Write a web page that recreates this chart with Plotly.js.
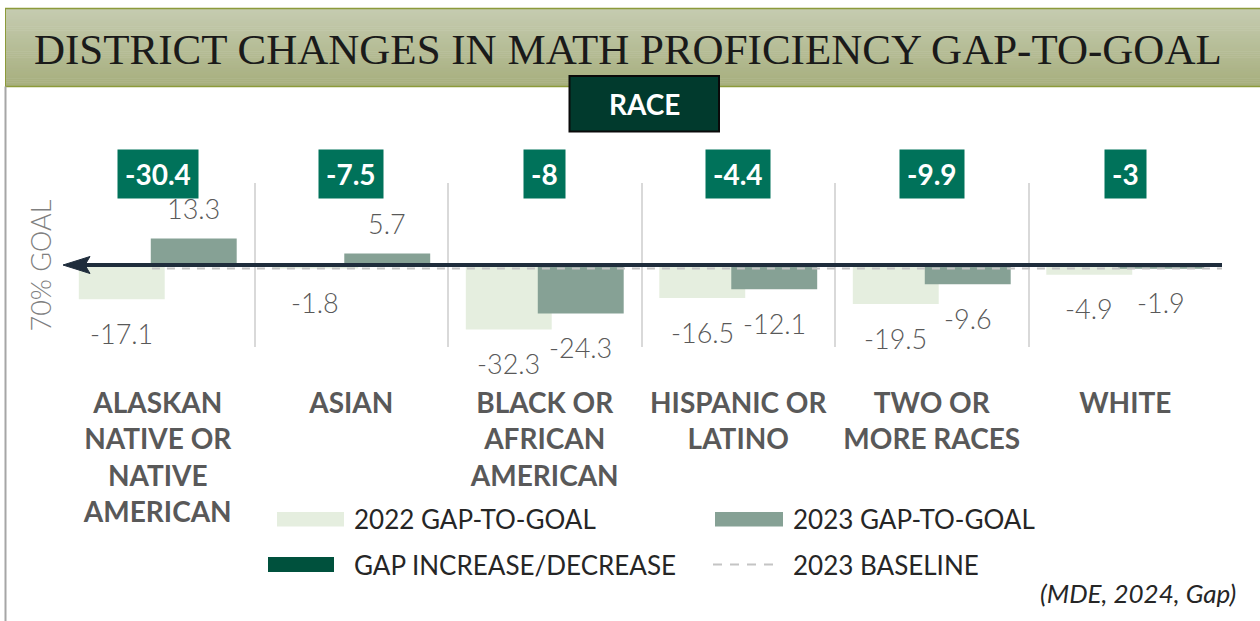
<!DOCTYPE html>
<html>
<head>
<meta charset="utf-8">
<script src="https://cdn.plot.ly/plotly-3.0.1.min.js"></script>
<style>
  html, body { margin: 0; padding: 0; background: #ffffff; }
  #chart { width: 1260px; height: 621px; }
</style>
</head>
<body>
<div id="chart"></div>
<script>
// ---------- DATA ----------
const categories = ["ALASKAN NATIVE OR NATIVE AMERICAN", "ASIAN", "BLACK OR AFRICAN AMERICAN", "HISPANIC OR LATINO", "TWO OR MORE RACES", "WHITE"];
const categoryLabels = ["ALASKAN<br>NATIVE OR<br>NATIVE<br>AMERICAN", "ASIAN", "BLACK OR<br>AFRICAN<br>AMERICAN", "HISPANIC OR<br>LATINO", "TWO OR<br>MORE RACES", "WHITE"];
const gap2022 = [-17.1, -1.8, -32.3, -16.5, -19.5, -4.9];
const gap2023 = [13.3, 5.7, -24.3, -12.1, -9.6, -1.9];
const gapChange = [-30.4, -7.5, -8, -4.4, -9.9, -3];

const chartTitle = "DISTRICT CHANGES IN MATH PROFICIENCY GAP-TO-GOAL";
const subTitle = "RACE";
const yTitle = "70% GOAL";
const legendNames = ["2022 GAP-TO-GOAL", "2023 GAP-TO-GOAL", "GAP INCREASE/DECREASE", "2023 BASELINE"];
const sourceNote = "(MDE, 2024, Gap)";

// ---------- LAYOUT HELPERS ----------
const L = 61, T = 183, W = 1161, H = 164;
const px = x => (x - L) / W;
const py = y => (T + H - y) / H;

const SANS = "Lato, 'Open Sans', sans-serif";
const C2022 = "#e5eedf", C2023 = "#86a195", CBOX = "#00725a", CDARK = "#00513d";
const barW = 0.444, off2022 = -0.408, off2023 = -0.036;
const catPx = W / categories.length;
const shift2022 = (off2022 + barW / 2) * catPx;
const shift2023 = (off2023 + barW / 2) * catPx;

const traces = [
  { type: "bar", name: legendNames[0], x: categories, y: gap2022, marker: { color: C2022 },
    width: barW, offset: off2022, showlegend: false, hoverinfo: "skip" },
  { type: "bar", name: legendNames[1], x: categories, y: gap2023, marker: { color: C2023 },
    width: barW, offset: off2023, showlegend: false, hoverinfo: "skip" }
];

const shapes = [];
const annotations = [];

// Banner gradient
const bTop = 9, bBot = 86, nB = 40;
const c0 = [197, 203, 176], c1 = [167, 175, 126];
for (let i = 0; i < nB; i++) {
  const t = i / (nB - 1);
  const c = c0.map((v, k) => Math.round(v + (c1[k] - v) * t));
  const y0 = bTop + (bBot - bTop) * i / nB, y1 = bTop + (bBot - bTop) * (i + 1) / nB + 0.5;
  shapes.push({ type: "rect", xref: "paper", yref: "paper", x0: px(5), x1: px(1262), y0: py(y0), y1: py(y1),
    fillcolor: `rgb(${c[0]},${c[1]},${c[2]})`, line: { width: 0 }, layer: "below" });
}
shapes.push({ type: "line", xref: "paper", yref: "paper", x0: px(5), x1: px(1262), y0: py(8.5), y1: py(8.5), line: { color: "#8c9a3a", width: 1.5 } });
shapes.push({ type: "line", xref: "paper", yref: "paper", x0: px(5), x1: px(1262), y0: py(86.5), y1: py(86.5), line: { color: "#8c9a3a", width: 1.5 } });
shapes.push({ type: "line", xref: "paper", yref: "paper", x0: px(5.5), x1: px(5.5), y0: py(8.5), y1: py(86.5), line: { color: "#8c9a3a", width: 1 } });
// left frame
shapes.push({ type: "line", xref: "paper", yref: "paper", x0: px(5.5), x1: px(5.5), y0: py(86.5), y1: py(625), line: { color: "#a6a6a6", width: 2 } });

// RACE box
shapes.push({ type: "rect", xref: "paper", yref: "paper", x0: px(569.5), x1: px(719), y0: py(76), y1: py(131.5),
  fillcolor: "#013a2d", line: { color: "#0a0a0a", width: 2 } });

// baseline dashed + arrow
shapes.push({ type: "line", xref: "x", yref: "y", x0: -0.03, x1: 5.5, y0: -3.5, y1: -3.5, ysizemode: "pixel", yanchor: 0,
  line: { color: "#c4c4c4", width: 2, dash: "8px,7px" }, layer: "above" });
shapes.push({ type: "line", xref: "x", yref: "y", x0: -0.38, x1: 5.5, y0: 0, y1: 0,
  line: { color: "#1f2d3c", width: 4 }, layer: "above" });
shapes.push({ type: "path", xref: "x", yref: "y", xsizemode: "pixel", ysizemode: "pixel", xanchor: -0.5, yanchor: 0,
  path: "M 2,0 L 29,8.5 L 24,0 L 29,-8.5 Z", fillcolor: "#1f2d3c", line: { color: "#1f2d3c", width: 1 }, layer: "above" });

// value labels
const labelFont = { family: SANS, size: 27, color: "#595959", weight: 300 };
categories.forEach((c, i) => {
  [[gap2022, shift2022], [gap2023, shift2023]].forEach(([arr, sh]) => {
    const v = arr[i];
    annotations.push({ x: c, y: v, xref: "x", yref: "y", text: String(v), showarrow: false,
      xshift: sh, yshift: v >= 0 ? 30 : -34, yanchor: "middle", font: labelFont });
  });
  annotations.push({ x: c, y: 1, xref: "x", yref: "paper", text: String(gapChange[i]), showarrow: false,
    yanchor: "middle", yshift: 9.5, bgcolor: CBOX, borderpad: 7,
    font: { family: SANS, size: 28, color: "#ffffff", weight: 700 } });
});

// titles
annotations.push({ xref: "paper", yref: "paper", x: px(628), y: py(49), text: chartTitle, showarrow: false,
  xanchor: "center", yanchor: "middle", font: { family: "'Liberation Serif', 'Times New Roman', serif", size: 43, color: "#1a1a1a" } });
annotations.push({ xref: "paper", yref: "paper", x: px(644), y: py(104), text: subTitle, showarrow: false,
  xanchor: "center", yanchor: "middle", font: { family: SANS, size: 28, color: "#ffffff", weight: 700 } });
annotations.push({ xref: "paper", yref: "paper", x: px(58), y: py(266), text: yTitle, showarrow: false, textangle: -90,
  xanchor: "right", yanchor: "middle", font: { family: SANS, size: 27, color: "#808080", weight: 300 } });

// legend
const legFont = { family: SANS, size: 26, color: "#262626" };
shapes.push({ type: "rect", xref: "paper", yref: "paper", x0: px(277), x1: px(344), y0: py(512), y1: py(526.5), fillcolor: C2022, line: { width: 0 } });
shapes.push({ type: "rect", xref: "paper", yref: "paper", x0: px(715), x1: px(783), y0: py(512), y1: py(526.5), fillcolor: C2023, line: { width: 0 } });
shapes.push({ type: "rect", xref: "paper", yref: "paper", x0: px(268), x1: px(334), y0: py(557), y1: py(572), fillcolor: CDARK, line: { width: 0 } });
shapes.push({ type: "line", xref: "paper", yref: "paper", x0: px(713), x1: px(777), y0: py(564.5), y1: py(564.5), line: { color: "#c4c4c4", width: 2, dash: "9px,8px" } });
[[legendNames[0], 352, 519], [legendNames[1], 791, 519], [legendNames[2], 352, 565], [legendNames[3], 791, 565]].forEach(([t, x, y]) => {
  annotations.push({ xref: "paper", yref: "paper", x: px(x), y: py(y), text: t, showarrow: false,
    xanchor: "left", yanchor: "middle", font: legFont });
});
annotations.push({ xref: "paper", yref: "paper", x: px(1238), y: py(593), text: "<i>" + sourceNote + "</i>", showarrow: false,
  xanchor: "right", yanchor: "middle", font: { family: SANS, size: 26, color: "#262626" } });

const layout = {
  width: 1260, height: 621,
  margin: { l: L, r: 1260 - L - W, t: T, b: 621 - T - H, pad: 0 },
  paper_bgcolor: "#ffffff", plot_bgcolor: "rgba(0,0,0,0)",
  barmode: "overlay", showlegend: false,
  xaxis: {
    type: "category", range: [-0.5, 5.5], fixedrange: true,
    tickmode: "array", tickvals: categories, ticktext: categoryLabels,
    tickson: "boundaries", ticks: "", showgrid: true, gridcolor: "#d9d9d9", gridwidth: 2,
    showline: false, zeroline: false, ticklabelstandoff: 37,
    tickfont: { family: SANS, size: 28, color: "#595959", weight: 700 }
  },
  yaxis: {
    range: [-41, 41], fixedrange: true, showgrid: false, zeroline: false, showticklabels: false, ticks: "", showline: false
  },
  shapes: shapes,
  annotations: annotations,
  font: { family: SANS }
};

Plotly.newPlot("chart", traces, layout, { staticPlot: true, displayModeBar: false });
</script>
</body>
</html>
